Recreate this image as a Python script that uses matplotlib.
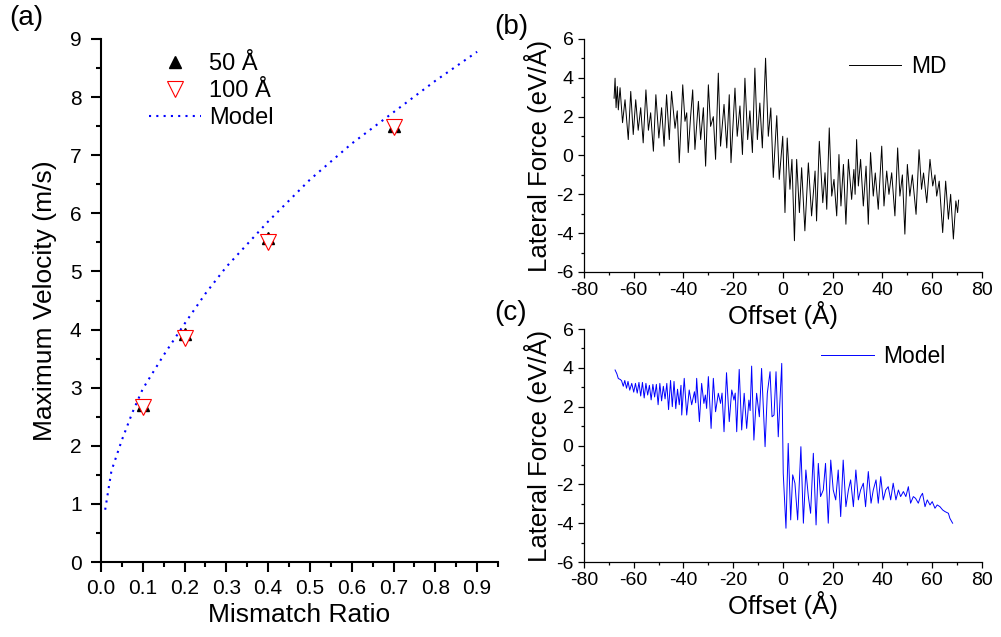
import matplotlib
matplotlib.use("Agg")
import matplotlib.pyplot as plt
from matplotlib.ticker import MultipleLocator

plt.rcParams['font.family'] = ['Liberation Sans', 'DejaVu Sans']
plt.rcParams['axes.unicode_minus'] = False

# ---------------- Panel (a) data ----------------
ratio = [0.1, 0.2, 0.4, 0.7]
v_50 = [2.70, 3.92, 5.57, 7.50]
v_100 = [2.66, 3.85, 5.51, 7.48]
model_ratio = [0.01, 0.025, 0.05, 0.075, 0.1, 0.15, 0.2, 0.25, 0.3, 0.4, 0.5, 0.6, 0.7, 0.8, 0.9]
model_v = [0.90, 1.57, 2.10, 2.57, 2.98, 3.56, 4.10, 4.62, 5.08, 5.86, 6.58, 7.20, 7.74, 8.28, 8.78]

# ---------------- Panel (b) MD data ----------------
md_x = [-67.9, -67.5, -67.1, -66.6, -66.2, -65.5, -64.5, -63.5, -62.2, -61.2, -60.2, -59.2,
        -58.2, -57.2, -56.2, -55.1, -54.1, -53.2, -52.1, -51.1, -49.9, -48.8, -47.8, -46.8,
        -45.7, -44.8, -43.4, -42.5, -41.7, -40.3, -39.4, -38.7, -38.1, -37.2, -36.3, -35.4,
        -34.0, -33.1, -32.0, -31.1, -30.0, -29.1, -28.0, -27.1, -26.0, -25.1, -23.7, -22.6,
        -21.6, -20.9, -19.3, -18.4, -17.3, -16.3, -15.3, -14.2, -13.3, -12.3, -11.3, -10.3,
        -9.3, -8.3, -7.0, -5.9, -4.9, -3.9, -2.5, -1.5, -0.1, 0.8, 1.7, 2.8,
        3.6, 4.6, 5.5, 6.6, 7.5, 8.8, 10.2, 11.5, 12.9, 13.5, 14.6, 16.0,
        16.9, 17.6, 18.6, 19.6, 20.5, 21.6, 22.5, 23.3, 24.3, 25.3, 26.3, 27.6,
        28.5, 29.0, 29.6, 30.3, 31.2, 32.3, 33.4, 34.3, 35.2, 36.3, 37.1, 38.3,
        39.7, 40.6, 41.7, 42.6, 43.7, 45.0, 46.1, 47.0, 48.0, 49.0, 50.0, 51.0,
        52.0, 53.5, 54.7, 55.7, 56.5, 57.8, 59.1, 60.2, 61.1, 61.8, 62.8, 64.2,
        65.4, 66.5, 67.4, 68.5, 69.5, 70.2, 70.6]
md_f = [2.95, 3.98, 2.46, 3.55, 2.35, 3.49, 1.69, 2.87, 0.82, 3.30, 1.08, 2.87,
        1.30, 2.46, 0.65, 3.38, 1.30, 2.20, 0.22, 3.13, 0.90, 2.46, 0.48, 3.13,
        0.82, 3.30, 1.40, 2.30, -0.37, 3.64, 1.76, 2.20, 0.15, 1.90, 3.38, 0.31,
        2.79, 0.82, 2.46, -0.55, 3.64, 1.50, 2.00, -0.20, 4.24, 0.48, 2.63, 0.39,
        3.13, -0.37, 3.47, 0.99, 2.55, 0.05, 3.98, 0.82, 2.30, 0.15, 4.50, 0.82,
        2.70, 0.39, 5.01, 0.99, 2.45, -1.13, 2.05, -1.23, 0.99, -2.94, 0.90, -1.74,
        -0.20, -4.39, -0.20, -2.94, -0.63, -3.88, -0.38, -3.11, -0.80, -3.37, 0.73, -2.43,
        -0.89, -2.77, 1.42, -2.09, -1.23, -3.11, 0.05, -2.60, -0.46, -3.54, -0.20, -2.26,
        -0.72, -2.00, 0.82, -1.57, -0.20, -2.60, -0.55, -3.54, 0.15, -2.09, -0.90, -2.77,
        0.48, -2.60, -0.80, -2.00, -0.89, -3.11, 0.39, -2.09, -1.00, -4.05, -0.46, -2.09,
        -1.00, -3.03, 0.30, -1.74, -0.90, -2.43, -0.20, -1.57, -1.00, -2.09, -1.32, -3.97,
        -1.32, -3.28, -2.00, -4.30, -2.34, -2.94, -2.30]

# ---------------- Panel (c) Model data ----------------
mod_x = [-67.5, -66.8, -66.2, -65.4, -64.9, -64.2, -63.6, -62.9, -62.3, -61.6, -60.8, -60.0,
         -59.3, -58.6, -57.9, -57.2, -56.5, -55.8, -55.1, -54.4, -53.7, -53.0, -52.3, -51.6,
         -50.9, -50.2, -49.5, -48.8, -48.1, -47.4, -46.7, -46.0, -45.2, -44.5, -43.8, -43.1,
         -42.4, -41.7, -41.0, -40.7, -39.7, -38.7, -37.7, -36.7, -35.6, -35.1, -34.7, -33.6,
         -32.7, -31.8, -31.2, -30.7, -30.0, -28.9, -28.0, -27.1, -26.0, -25.1, -24.5, -23.7,
         -22.7, -21.6, -20.6, -19.7, -19.2, -18.6, -17.6, -16.6, -15.6, -14.6, -13.7, -13.2,
         -12.6, -11.7, -10.6, -9.5, -8.6, -7.2, -6.3, -5.2, -4.4, -3.6, -2.8, -1.9,
         -0.5, 0.1, 1.2, 2.1, 3.1, 3.9, 4.8, 5.9, 7.2, 8.2, 9.2, 10.2,
         11.1, 12.2, 13.3, 14.2, 15.1, 16.2, 17.1, 18.2, 19.2, 20.2, 21.2, 22.2,
         23.2, 24.2, 25.3, 26.3, 27.2, 28.3, 29.3, 30.3, 31.2, 32.3, 33.2, 34.3,
         35.4, 36.3, 37.4, 38.3, 39.3, 40.3, 41.3, 42.3, 43.3, 44.3, 45.4, 46.4,
         47.3, 48.4, 49.4, 50.4, 51.3, 52.4, 53.3, 54.4, 55.3, 56.1, 57.1, 58.0,
         59.1, 60.0, 61.1, 62.0, 63.1, 64.2, 65.1, 66.5, 67.1, 68.2]
mod_f = [3.89, 3.70, 3.45, 3.40, 3.34, 3.05, 3.35, 2.95, 3.30, 2.85, 3.20, 2.75,
         3.20, 2.70, 3.25, 2.55, 3.25, 2.45, 3.20, 2.60, 3.10, 2.35, 3.15, 2.50,
         3.15, 2.10, 3.20, 2.30, 3.05, 2.40, 3.20, 1.85, 3.35, 2.00, 3.30, 1.90,
         2.90, 2.10, 3.10, 1.57, 3.46, 1.57, 2.86, 2.10, 2.77, 2.20, 3.46, 1.23,
         3.20, 2.17, 2.60, 1.91, 3.55, 0.88, 3.46, 1.74, 2.69, 2.17, 2.70, 0.71,
         3.75, 1.23, 2.86, 2.34, 2.70, 0.71, 3.92, 0.80, 2.69, 0.88, 2.34, 1.80,
         4.09, 0.28, 2.69, 1.48, 3.97, -0.06, 2.69, 3.80, 1.48, 1.57, 3.80, 0.45,
         4.23, -1.43, -4.26, 0.11, -3.83, -1.51, -1.94, -3.83, -0.06, -4.00, -1.26, -2.63,
         -3.49, -0.40, -4.09, -0.92, -2.63, -2.29, -0.92, -4.00, -0.75, -2.29, -2.80, -1.26,
         -3.66, -0.75, -3.15, -2.29, -1.77, -3.15, -1.26, -2.80, -2.29, -1.94, -3.15, -1.34,
         -2.97, -2.29, -1.77, -2.97, -1.60, -2.80, -2.29, -2.12, -2.80, -1.94, -2.80, -2.29,
         -2.63, -2.37, -2.63, -2.12, -2.97, -2.63, -2.72, -2.97, -2.63, -2.46, -3.15, -2.80,
         -3.06, -2.89, -3.23, -3.06, -3.15, -3.32, -3.40, -3.49, -3.75, -4.00]

# ---------------- Figure ----------------
fig = plt.figure(figsize=(10.01, 6.37), dpi=100)

def style_axis(ax, lw, maj, mino, labelsize, pad):
    for s in ['top', 'right']:
        ax.spines[s].set_visible(False)
    for s in ['left', 'bottom']:
        ax.spines[s].set_linewidth(lw)
    ax.tick_params(which='major', direction='out', length=maj, width=lw, labelsize=labelsize, pad=pad)
    ax.tick_params(which='minor', direction='out', length=mino, width=lw)

# Panel (a)
axa = fig.add_axes([0.1009, 0.1177, 0.3966, 0.8211])
axa.plot(ratio, v_50, linestyle='none', marker='^', color='black', ms=9, label='50 Å', zorder=3)
axa.plot(ratio, v_100, linestyle='none', marker='v', mfc='white', mec='red', mew=0.8, ms=11,
         label='100 Å', zorder=4)
axa.plot(model_ratio, model_v, color='blue', linestyle=(0, (1, 2.5)), lw=1.5, label='Model', zorder=2)
axa.set_xlim(0, 0.95)
axa.set_ylim(0, 9)
axa.xaxis.set_minor_locator(MultipleLocator(0.05))
axa.yaxis.set_major_locator(MultipleLocator(1))
axa.yaxis.set_minor_locator(MultipleLocator(0.5))
axa.set_xticks([0.0, 0.1, 0.2, 0.3, 0.4, 0.5, 0.6, 0.7, 0.8, 0.9])
axa.set_xticklabels(['0.0', '0.1', '0.2', '0.3', '0.4', '0.5', '0.6', '0.7', '0.8', '0.9'])
style_axis(axa, 1.5, 7, 3.5, 15, 5)
axa.tick_params(axis='y', which='major', pad=7)
axa.set_xlabel('Mismatch Ratio', fontsize=19, labelpad=4)
axa.set_ylabel('Maximum Velocity (m/s)', fontsize=19, labelpad=9)
axa.legend(loc='upper left', bbox_to_anchor=(0.08, 1.005), frameon=False, fontsize=17,
           handlelength=2.2, handletextpad=0.35, labelspacing=0.22, borderpad=0.2)

# Panel (b)
axb = fig.add_axes([0.5834, 0.573, 0.3976, 0.3658])
axb.plot(md_x, md_f, color='black', lw=0.7, label='MD')
# Panel (c)
axc = fig.add_axes([0.5834, 0.1177, 0.3976, 0.3658])
axc.plot(mod_x, mod_f, color='#0000ff', lw=0.7, label='Model')

for ax in (axb, axc):
    ax.set_xlim(-80, 80)
    ax.set_ylim(-6, 6)
    ax.xaxis.set_major_locator(MultipleLocator(20))
    ax.xaxis.set_minor_locator(MultipleLocator(10))
    ax.yaxis.set_major_locator(MultipleLocator(2))
    ax.yaxis.set_minor_locator(MultipleLocator(1))
    style_axis(ax, 0.9, 4.5, 2.5, 14, 3)
    ax.set_xlabel('Offset (Å)', fontsize=18.5, labelpad=1)
    ax.set_ylabel('Lateral Force (eV/Å)', fontsize=18.5, labelpad=3)

axb.legend(loc='upper left', bbox_to_anchor=(0.625, 1.0), frameon=False, fontsize=16.5,
           handlelength=2.3, handletextpad=0.4, borderpad=0.2)
axc.legend(loc='upper left', bbox_to_anchor=(0.555, 1.0), frameon=False, fontsize=16.5,
           handlelength=2.3, handletextpad=0.4, borderpad=0.2)

fig.text(0.009, 0.972, '(a)', fontsize=20, va='center', ha='left')
fig.text(0.494, 0.957, '(b)', fontsize=20, va='center', ha='left')
fig.text(0.494, 0.508, '(c)', fontsize=20, va='center', ha='left')

fig.savefig('out.png', dpi=100)
